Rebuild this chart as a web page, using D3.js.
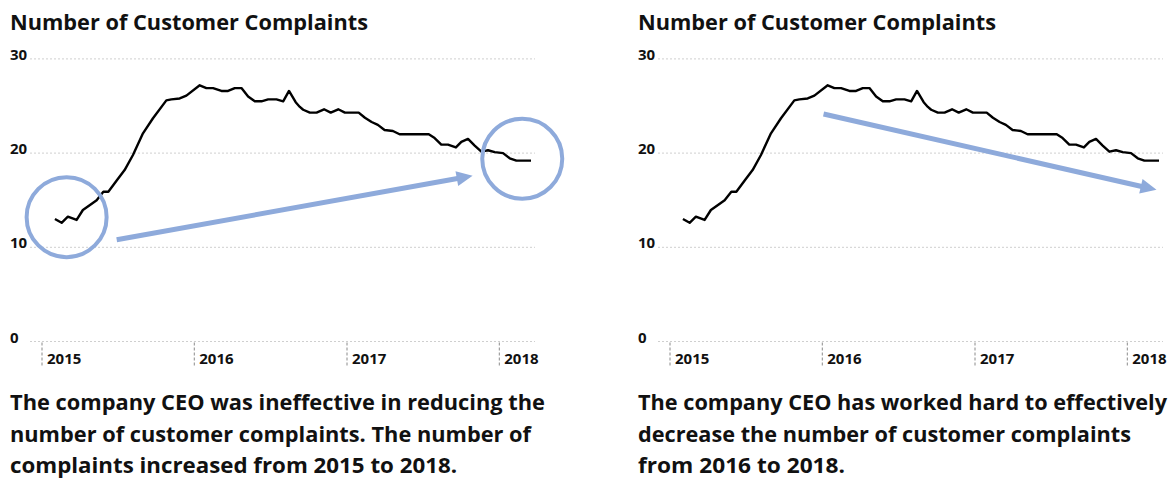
<!DOCTYPE html>
<html><head><meta charset="utf-8">
<script src="https://cdn.jsdelivr.net/npm/d3@7"></script>
<style>
body{margin:0;background:#fff;}
svg{display:block;}
text{font-family:"Open Sans",Lato,sans-serif;font-weight:bold;fill:#111;}
</style>
</head><body>
<svg id="chart" width="1174" height="478"></svg>
<script>
// ---------- data ----------
const dates = ["2015-02-01","2015-02-17","2015-03-04","2015-03-25","2015-04-09","2015-04-26","2015-05-12","2015-05-28","2015-06-09","2015-06-29",
"2015-07-18","2015-08-07","2015-08-31","2015-09-24","2015-10-26","2015-11-07","2015-11-27","2015-12-13","2016-01-14","2016-01-30",
"2016-02-15","2016-03-06","2016-03-22","2016-04-07","2016-04-23","2016-05-09","2016-05-25","2016-06-10","2016-06-26","2016-07-16",
"2016-08-01","2016-08-15","2016-08-31","2016-09-10","2016-09-18","2016-10-04","2016-10-20","2016-11-07","2016-11-23","2016-12-11",
"2016-12-27","2017-01-12","2017-01-29","2017-02-13","2017-03-01","2017-03-16","2017-04-01","2017-04-21","2017-05-07","2017-06-08",
"2017-07-16","2017-07-30","2017-08-15","2017-08-31","2017-09-19","2017-10-02","2017-10-18","2017-11-03","2017-11-19","2017-12-05",
"2017-12-21","2018-01-10","2018-01-26","2018-02-11","2018-03-18"];
const values = [13.0,12.6,13.25,12.9,13.96,14.5,15.0,15.9,15.9,17.1,
18.2,19.8,22.1,23.7,25.6,25.7,25.8,26.1,27.2,26.9,
26.9,26.6,26.6,26.9,26.9,26.0,25.5,25.5,25.7,25.7,
25.5,26.6,25.4,24.9,24.6,24.3,24.3,24.65,24.3,24.65,
24.3,24.3,24.3,23.75,23.3,23.0,22.45,22.35,22.0,22.0,
22.0,21.6,20.9,20.9,20.6,21.2,21.5,20.8,20.15,20.3,
20.1,20.0,19.45,19.2,19.2];
const yTicks = [0,10,20,30];
const yearTicks = ["2015","2016","2017","2018"];
const titleText = "Number of Customer Complaints";
const captionsLeft = ["The company CEO was ineffective in reducing the","number of customer complaints. The number of","complaints increased from 2015 to 2018."];
const captionsRight = ["The company CEO has worked hard to effectively","decrease the number of customer complaints","from 2016 to 2018."];
// annotations (date, value)
const circlesLeft = [{date:"2015-03-01", value:13.2},{date:"2018-02-25", value:19.4}];
const arrowLeft = [{date:"2015-06-29", value:10.8},{date:"2017-10-29", value:17.6}];
const arrowRight = [{date:"2016-01-04", value:24.15},{date:"2018-03-12", value:16.1}];

// ---------- drawing ----------
const parse = d3.timeParse("%Y-%m-%d");
const series = dates.map((d,i)=>({date:parse(d), value:values[i]}));
const svg = d3.select("#chart");
const BLUE = "#8eaadb";

function fitWidth(sel, w){
  sel.each(function(){
    const L = this.getComputedTextLength();
    if (Math.abs(L - w) > 1) { d3.select(this).attr("textLength", w).attr("lengthAdjust","spacingAndGlyphs"); }
  });
}

function panel(dx, captions, capWidths, circles, arrow){
  const g = svg.append("g").attr("transform", `translate(${dx},0)`);
  const x = d3.scaleTime().domain([parse("2015-01-01"), parse("2018-01-01")]).range([42, 499.3]);
  const y = d3.scaleLinear().domain([0,30]).range([341.5, 58.9]);
  const gridX0 = 30, gridX1 = 535;

  // title
  g.append("text").attr("x",10).attr("y",30).attr("font-size",21).text(titleText).call(fitWidth, 358);

  // gridlines
  g.append("g").selectAll("line").data(yTicks).join("line")
    .attr("x1",gridX0).attr("x2",gridX1)
    .attr("y1",d=>y(d)).attr("y2",d=>y(d))
    .attr("stroke","#cfcfcf").attr("stroke-width",1).attr("stroke-dasharray","2,2");
  // y labels
  g.append("g").selectAll("text").data(yTicks).join("text")
    .attr("x",10).attr("y",d=>y(d)+1).attr("font-size",15).text(d=>d);

  // year ticks
  const yt = yearTicks.map(s=>parse(s+"-01-01"));
  g.append("g").selectAll("line").data(yt).join("line")
    .attr("x1",d=>x(d)).attr("x2",d=>x(d))
    .attr("y1",y(0)+1).attr("y2",y(0)+24)
    .attr("stroke","#8a8a8a").attr("stroke-width",1).attr("stroke-dasharray","3,2");
  g.append("g").selectAll("text").data(yt).join("text")
    .attr("x",d=>x(d)+5).attr("y",y(0)+22).attr("font-size",15).text((d,i)=>yearTicks[i]);

  // line
  g.append("path").datum(series)
    .attr("fill","none").attr("stroke","#000").attr("stroke-width",2.4)
    .attr("stroke-linejoin","round")
    .attr("d", d3.line().x(d=>x(d.date)).y(d=>y(d.value)));

  // circles
  g.append("g").selectAll("circle").data(circles).join("circle")
    .attr("cx",d=>x(parse(d.date))).attr("cy",d=>y(d.value)).attr("r",40)
    .attr("fill","none").attr("stroke",BLUE).attr("stroke-width",4);

  // arrow
  const [a,b] = arrow.map(d=>[x(parse(d.date)), y(d.value)]);
  const ang = Math.atan2(b[1]-a[1], b[0]-a[0]);
  const hl = 16, hw = 7.5;
  const base = [b[0]-hl*Math.cos(ang), b[1]-hl*Math.sin(ang)];
  g.append("line").attr("x1",a[0]).attr("y1",a[1]).attr("x2",base[0]+2*Math.cos(ang)).attr("y2",base[1]+2*Math.sin(ang))
    .attr("stroke",BLUE).attr("stroke-width",5);
  const px = -Math.sin(ang), py = Math.cos(ang);
  g.append("polygon").attr("points",[
    b, [base[0]+hw*px, base[1]+hw*py], [base[0]-hw*px, base[1]-hw*py]
  ].map(p=>p.join(",")).join(" ")).attr("fill",BLUE);

  // captions
  const caps = g.append("g").selectAll("text").data(captions).join("text")
    .attr("x",10).attr("y",(d,i)=>410+i*31.5).attr("font-size",22).text(d=>d);
  caps.each(function(d,i){ d3.select(this).call(fitWidth, capWidths[i]); });
}

panel(0, captionsLeft, [535,521,447], circlesLeft, arrowLeft);
panel(628, captionsRight, [529,493,207], [], arrowRight);
</script>
</body></html>
